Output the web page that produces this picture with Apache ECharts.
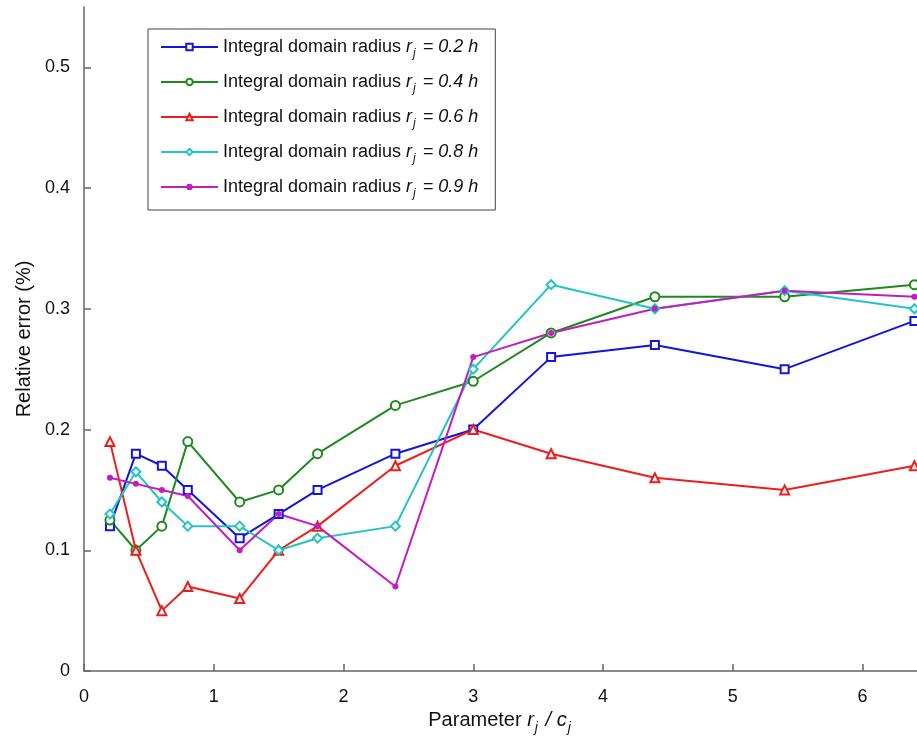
<!DOCTYPE html>
<html>
<head>
<meta charset="utf-8">
<script src="https://cdn.jsdelivr.net/npm/echarts@6/dist/echarts.min.js"></script>
<style>
    html, body {margin: 0; padding: 0; background: #fff;}
    #main {width: 917px; height: 744px;}
</style>
</head>
<body>
<div id="main"></div>
<script>
// parameter r_j / c_j
const xValues = [0.2, 0.4, 0.6, 0.8, 1.2, 1.5, 1.8, 2.4, 3.0, 3.6, 4.4, 5.4, 6.4];

const radiusLabels = ['0.2', '0.4', '0.6', '0.8', '0.9'];

const err02 = [0.12, 0.18, 0.17, 0.15, 0.11, 0.13, 0.15, 0.18, 0.20, 0.26, 0.27, 0.25, 0.29];
const err04 = [0.125, 0.10, 0.12, 0.19, 0.14, 0.15, 0.18, 0.22, 0.24, 0.28, 0.31, 0.31, 0.32];
const err06 = [0.19, 0.10, 0.05, 0.07, 0.06, 0.10, 0.12, 0.17, 0.20, 0.18, 0.16, 0.15, 0.17];
const err08 = [0.13, 0.165, 0.14, 0.12, 0.12, 0.10, 0.11, 0.12, 0.25, 0.32, 0.30, 0.315, 0.30];
const err09 = [0.16, 0.155, 0.15, 0.145, 0.10, 0.13, 0.12, 0.07, 0.26, 0.28, 0.30, 0.315, 0.31];

const xTicks = [0, 1, 2, 3, 4, 5, 6];
const yTicks = [0, 0.1, 0.2, 0.3, 0.4, 0.5];

const allErrors = [err02, err04, err06, err08, err09];
const colors = ['#1414e0', '#1e8a1e', '#f01c1c', '#22c4c4', '#c21cc2'];
const symbols = ['emptyRect', 'emptyCircle', 'emptyTriangle', 'emptyDiamond', 'circle'];
const symbolSizes = [8, 9, 9, 9, 6];

const font = 'Liberation Sans, Arial, sans-serif';

function seriesName(i) {
    return 'Integral domain radius r_j = ' + radiusLabels[i] + ' h';
}

// rich text styles for italic r_j with subscript
function richStyles(size, lh) {
    return {
        n: {fontSize: size, color: '#111', fontFamily: font, lineHeight: lh, verticalAlign: 'middle'},
        i: {fontSize: size, color: '#111', fontFamily: font, fontStyle: 'italic', lineHeight: lh, verticalAlign: 'middle'},
        s: {fontSize: Math.round(size * 0.68), color: '#111', fontFamily: font, fontStyle: 'italic', lineHeight: lh, verticalAlign: 'bottom', padding: [0, 2, 0, 1]}
    };
}

let myChart = echarts.init(document.getElementById('main'));

let series = allErrors.map(function (vals, i) {
    return {
        name: seriesName(i),
        type: 'line',
        data: xValues.map(function (x, k) { return [x, vals[k]]; }),
        symbol: symbols[i],
        symbolSize: symbolSizes[i],
        color: colors[i],
        lineStyle: {width: 2, color: colors[i]},
        itemStyle: {color: colors[i], borderWidth: 1.5},
        clip: false,
        animation: false
    };
});

let options = {
    backgroundColor: '#fff',
    textStyle: {fontFamily: font},
    grid: {left: 84, top: 7, right: 0, bottom: 73},
    legend: {
        orient: 'vertical',
        left: 148,
        top: 29,
        itemWidth: 57,
        itemHeight: 8,
        itemGap: 13,
        padding: [9, 17, 10, 12],
        borderColor: '#444',
        borderWidth: 1,
        formatter: function (name) {
            let i = series.findIndex(function (s) { return s.name === name; });
            return '{n|Integral domain radius }{i|r}{s|j}{i| = ' + radiusLabels[i] + ' h}';
        },
        textStyle: {rich: richStyles(18, 26)}
    },
    xAxis: {
        type: 'value',
        min: 0,
        max: 6.42,
        name: '{n|Parameter }{i|r}{s|j}{i| / c}{s|j}',
        nameLocation: 'middle',
        nameGap: 28,
        nameTextStyle: {rich: richStyles(20, 28)},
        axisLine: {lineStyle: {color: '#666', width: 1.5}},
        axisTick: {inside: true, length: 7, customValues: xTicks, lineStyle: {color: '#666', width: 1.5}},
        axisLabel: {fontSize: 18, color: '#111', margin: 17, customValues: xTicks},
        splitLine: {show: false}
    },
    yAxis: {
        type: 'value',
        min: 0,
        max: 0.55,
        name: 'Relative error (%)',
        nameLocation: 'middle',
        nameGap: 44,
        nameTextStyle: {fontSize: 20, color: '#111'},
        axisLine: {show: true, lineStyle: {color: '#666', width: 1.5}},
        axisTick: {show: true, inside: true, length: 7, customValues: yTicks, lineStyle: {color: '#666', width: 1.5}},
        axisLabel: {fontSize: 18, color: '#111', margin: 14, customValues: yTicks},
        splitLine: {show: false}
    },
    series: series
};

myChart.setOption(options);
</script>
</body>
</html>
